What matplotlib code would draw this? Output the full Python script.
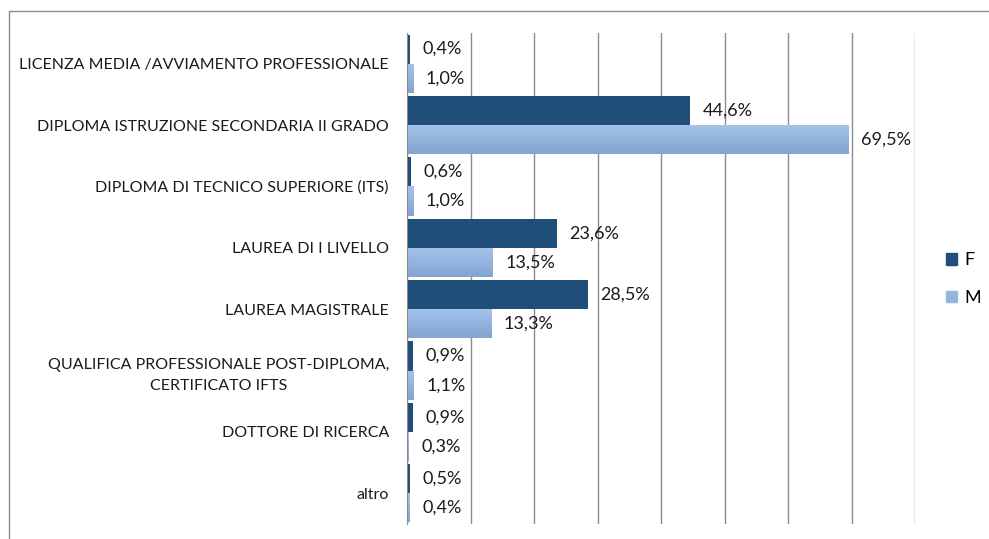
import matplotlib
matplotlib.use('Agg')
import matplotlib.pyplot as plt
import numpy as np
from matplotlib.patches import Patch, Rectangle

plt.rcParams['font.family'] = ['Lato', 'DejaVu Sans']

categorie = ['LICENZA MEDIA /AVVIAMENTO PROFESSIONALE',
             'DIPLOMA ISTRUZIONE SECONDARIA II GRADO',
             'DIPLOMA DI TECNICO SUPERIORE (ITS)',
             'LAUREA DI I LIVELLO',
             'LAUREA MAGISTRALE',
             'QUALIFICA PROFESSIONALE POST-DIPLOMA,\nCERTIFICATO IFTS',
             'DOTTORE DI RICERCA',
             'altro']
val_f = [0.4, 44.6, 0.6, 23.6, 28.5, 0.9, 0.9, 0.5]
val_m = [1.0, 69.5, 1.0, 13.5, 13.3, 1.1, 0.3, 0.4]

col_f = '#1F4E79'
col_m = '#95B5DE'

fig = plt.figure(figsize=(9.89, 5.39), dpi=100)
ax = fig.add_axes([407/989, 1-524/539, (915-407)/989, (524-33)/539])

y = np.arange(len(categorie))
h = 0.475
bars_f = ax.barh(y - h/2, val_f, height=h, color=col_f, zorder=3)
bars_m = ax.barh(y + h/2, val_m, height=h, color=col_m, zorder=3)

# sfumatura sulle barre M
grad = np.linspace(0, 1, 50).reshape(-1, 1)
cmap = matplotlib.colors.LinearSegmentedColormap.from_list('m', ['#A6C4EA', '#82A4D2'])
for b in bars_m:
    x0, y0, w, hh = b.get_x(), b.get_y(), b.get_width(), b.get_height()
    im = ax.imshow(grad, extent=(x0, x0 + w, y0 + hh, y0), cmap=cmap,
                   aspect='auto', zorder=4, origin='upper')
    im.set_clip_path(b)

def fmt(v):
    return f'{v:.1f}%'.replace('.', ',')

for bars, vals in ((bars_f, val_f), (bars_m, val_m)):
    for b, v in zip(bars, vals):
        ax.annotate(fmt(v), (b.get_width(), b.get_y() + b.get_height()/2),
                    xytext=(9, 0), textcoords='offset points',
                    va='center', ha='left', fontsize=13, color='#1a1a1a', zorder=5)

ax.set_xlim(0, 80)
ax.set_ylim(len(categorie) - 0.5, -0.5)
ax.set_xticks(np.arange(0, 81, 10))
ax.set_xticklabels([])
ax.tick_params(axis='x', length=0)
ax.set_yticks(y)
ax.set_yticklabels(categorie, fontsize=11.5, color='#1a1a1a',
                   multialignment='center', linespacing=1.6)
ax.tick_params(axis='y', length=0, pad=13)
ax.grid(axis='x', color='#8C8C8C', linewidth=1, zorder=0)
for s in ['top', 'right', 'bottom']:
    ax.spines[s].set_visible(False)
ax.spines['left'].set_color('#8C8C8C')
ax.spines['left'].set_zorder(6)

handles = [Patch(color=col_f, label='F'), Patch(color=col_m, label='M')]
fig.legend(handles=handles, loc='center left', bbox_to_anchor=(930/989, 1-279/539),
           frameon=False, fontsize=13, handlelength=0.6, handleheight=0.6,
           handletextpad=0.4, labelspacing=1.2)

# cornice del grafico
fig.patches.append(Rectangle((9/989, -0.1), 1.2, 1 - 11/539 + 0.1,
                             transform=fig.transFigure, fill=False,
                             edgecolor='#8C8C8C', linewidth=1))

fig.savefig('out.png', dpi=100, facecolor='white')
